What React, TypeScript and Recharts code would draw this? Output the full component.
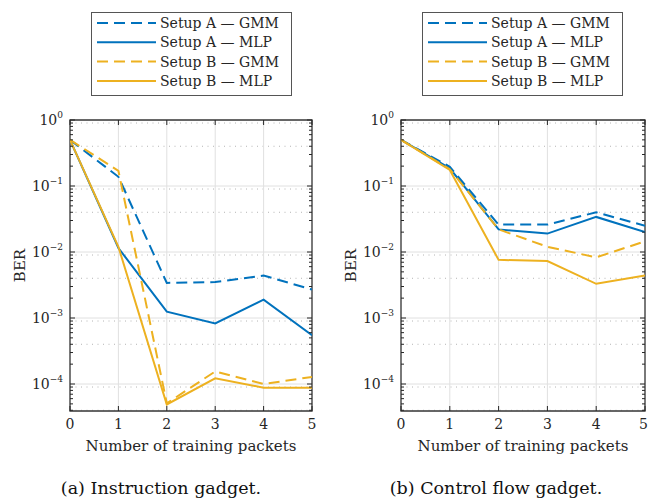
import React from "react";
import {
  LineChart,
  Line,
  XAxis,
  YAxis,
  CartesianGrid,
  ReferenceLine,
  ReferenceArea,
  Legend,
} from "recharts";

const packets = [0, 1, 2, 3, 4, 5];

// (a) Instruction gadget
const instrAGmm = [0.5, 0.138, 0.0034, 0.0035, 0.0044, 0.0027];
const instrAMlp = [0.5, 0.0115, 0.00125, 0.00083, 0.0019, 0.00055];
const instrBGmm = [0.5, 0.17, 5.1e-5, 1.55e-4, 1.0e-4, 1.28e-4];
const instrBMlp = [0.5, 0.012, 4.9e-5, 1.22e-4, 8.8e-5, 8.8e-5];

// (b) Control flow gadget
const flowAGmm = [0.5, 0.196, 0.026, 0.026, 0.04, 0.025];
const flowAMlp = [0.5, 0.185, 0.022, 0.019, 0.034, 0.02];
const flowBGmm = [0.5, 0.18, 0.022, 0.012, 0.0083, 0.0145];
const flowBMlp = [0.5, 0.175, 0.0076, 0.0073, 0.0033, 0.0044];

const xTicks = [0, 1, 2, 3, 4, 5];
const yTicks = [1e-4, 1e-3, 1e-2, 1e-1, 1];
const yMin = 3.9e-5;
const mantissas = [2, 3, 4, 5, 6, 7, 8, 9];
const decades = [1e-5, 1e-4, 1e-3, 1e-2, 1e-1];
const yMinor = decades
  .flatMap((d) => mantissas.map((m) => m * d))
  .filter((v) => v >= yMin && v < 1);

const BLUE = "#0072BD";
const YELLOW = "#EDB120";
const INK = "#262626";
const FONT = "'DejaVu Serif', serif";

const series = [
  { key: "aGmm", name: "Setup A \u2014 GMM", color: BLUE, dash: "11 6" },
  { key: "aMlp", name: "Setup A \u2014 MLP", color: BLUE, dash: undefined },
  { key: "bGmm", name: "Setup B \u2014 GMM", color: YELLOW, dash: "11 6" },
  { key: "bMlp", name: "Setup B \u2014 MLP", color: YELLOW, dash: undefined },
];

function buildRows(a: number[], b: number[], c: number[], d: number[]) {
  return packets.map((x, i) => ({ x, aGmm: a[i], aMlp: b[i], bGmm: c[i], bMlp: d[i] }));
}

const instrRows = buildRows(instrAGmm, instrAMlp, instrBGmm, instrBMlp);
const flowRows = buildRows(flowAGmm, flowAMlp, flowBGmm, flowBMlp);

function YTick(props: any) {
  const { x, y, payload } = props;
  const exp = Math.round(Math.log10(payload.value));
  const expStr = exp < 0 ? "\u2212" + Math.abs(exp) : String(exp);
  return (
    <text x={x} y={y + 4.5} textAnchor="end" style={{ fontFamily: FONT }} fontSize={14} fill={INK}>
      10
      <tspan dy={-7} fontSize={9}>
        {expStr}
      </tspan>
    </text>
  );
}

function LegendBox() {
  return (
    <svg width={202} height={85} style={{ display: "block" }}>
      <rect x={0.5} y={0.5} width={200} height={83} fill="#fff" stroke="#555" strokeWidth={1} />
      {series.map((s, i) => {
        const cy = 11 + i * 19.3;
        return (
          <g key={s.key}>
            <line x1={6} x2={65} y1={cy} y2={cy} stroke={s.color} strokeWidth={2} strokeDasharray={s.dash} />
            <text x={69} y={cy + 5} style={{ fontFamily: FONT }} fontSize={14} fill={INK}>
              {s.name}
            </text>
          </g>
        );
      })}
    </svg>
  );
}

const yTickShape = (len: number) => (p: any) => (
  <g>
    <line x1={p.x1} x2={p.x1 + len} y1={p.y1} y2={p.y1} stroke={INK} strokeWidth={1} />
    <line x1={p.x2 - len} x2={p.x2} y1={p.y2} y2={p.y2} stroke={INK} strokeWidth={1} />
  </g>
);

const xTickShape = (p: any) => {
  const top = Math.min(p.y1, p.y2);
  const bottom = Math.max(p.y1, p.y2);
  return (
    <g>
      <line x1={p.x1} x2={p.x1} y1={top} y2={top + 5} stroke={INK} strokeWidth={1} />
      <line x1={p.x1} x2={p.x1} y1={bottom - 5} y2={bottom} stroke={INK} strokeWidth={1} />
    </g>
  );
};

interface PanelProps {
  rows: any[];
  left: number;
  marginLeft: number;
  marginRight: number;
  caption: string;
  captionCenter: number;
}

function Panel({ rows, left, marginLeft, marginRight, caption, captionCenter }: PanelProps) {
  return (
    <div style={{ position: "absolute", left, top: 0, width: 324, height: 499, fontFamily: FONT }}>
      <LineChart
        width={324}
        height={499}
        data={rows}
        margin={{ top: 120, right: marginRight, bottom: 58, left: marginLeft }}
        style={{ fontFamily: FONT }}
      >
        <CartesianGrid
          vertical={false}
          horizontalValues={yMinor}
          stroke="#b4b4b4"
          strokeDasharray="1 4.5"
        />
        <CartesianGrid stroke="#e0e0e0" />
        <XAxis
          dataKey="x"
          type="number"
          domain={[0, 5]}
          ticks={xTicks}
          allowDataOverflow
          axisLine={false}
          tickLine={false}
          tick={{ fontSize: 14, fill: INK, style: { fontFamily: FONT } }}
          label={(lp: any) => {
            const vb = lp.viewBox;
            return (
              <text
                x={vb.x + vb.width / 2}
                y={vb.y + 40}
                textAnchor="middle"
                style={{ fontFamily: FONT }}
                fontSize={15}
                fill={INK}
              >
                Number of training packets
              </text>
            );
          }}
        />
        <YAxis
          type="number"
          scale="log"
          domain={[yMin, 1]}
          ticks={yTicks}
          allowDataOverflow
          width={70}
          axisLine={false}
          tickLine={false}
          tickSize={0}
          tickMargin={7}
          tick={<YTick />}
          label={(lp: any) => {
            const vb = lp.viewBox;
            const cx = vb.x + vb.width - 45;
            const cy = vb.y + vb.height / 2;
            return (
              <text
                x={cx}
                y={cy}
                textAnchor="middle"
                transform={`rotate(-90, ${cx}, ${cy})`}
                style={{ fontFamily: FONT }}
                fontSize={15}
                fill={INK}
              >
                BER
              </text>
            );
          }}
        />
        {series.map((s) => (
          <Line
            key={s.key}
            type="linear"
            dataKey={s.key}
            name={s.name}
            stroke={s.color}
            strokeWidth={2}
            strokeDasharray={s.dash}
            dot={false}
            activeDot={false}
            isAnimationActive={false}
          />
        ))}
        {yMinor.map((v) => (
          <ReferenceLine key={"m" + v} y={v} shape={yTickShape(3)} />
        ))}
        {yTicks.map((v) => (
          <ReferenceLine key={"M" + v} y={v} shape={yTickShape(5)} />
        ))}
        {xTicks.map((v) => (
          <ReferenceLine key={"x" + v} x={v} shape={xTickShape} />
        ))}
        <ReferenceArea
          x1={0}
          x2={5}
          y1={yMin}
          y2={1}
          fill="none"
          fillOpacity={0}
          stroke="#3a3a3a"
          strokeWidth={1.3}
        />
        <Legend
          layout="vertical"
          align="center"
          verticalAlign="middle"
          wrapperStyle={{ left: marginLeft + 91, top: 12, width: 202, height: 85 }}
          content={() => <LegendBox />}
        />
      </LineChart>
      <div
        style={{
          position: "absolute",
          left: captionCenter - left - 150,
          width: 300,
          top: 479,
          textAlign: "center",
          fontFamily: FONT,
          fontSize: 17.5,
          lineHeight: "18px",
          color: "#111",
          whiteSpace: "nowrap",
        }}
      >
        {caption}
      </div>
    </div>
  );
}

export default function App() {
  return (
    <div
      style={{
        position: "absolute",
        left: 0,
        top: 0,
        width: 648,
        height: 499,
        background: "#fff",
        overflow: "hidden",
      }}
    >
      <Panel
        rows={instrRows}
        left={0}
        marginLeft={0}
        marginRight={12}
        caption="(a) Instruction gadget."
        captionCenter={161}
      />
      <Panel
        rows={flowRows}
        left={324}
        marginLeft={7}
        marginRight={3}
        caption="(b) Control flow gadget."
        captionCenter={496}
      />
    </div>
  );
}
